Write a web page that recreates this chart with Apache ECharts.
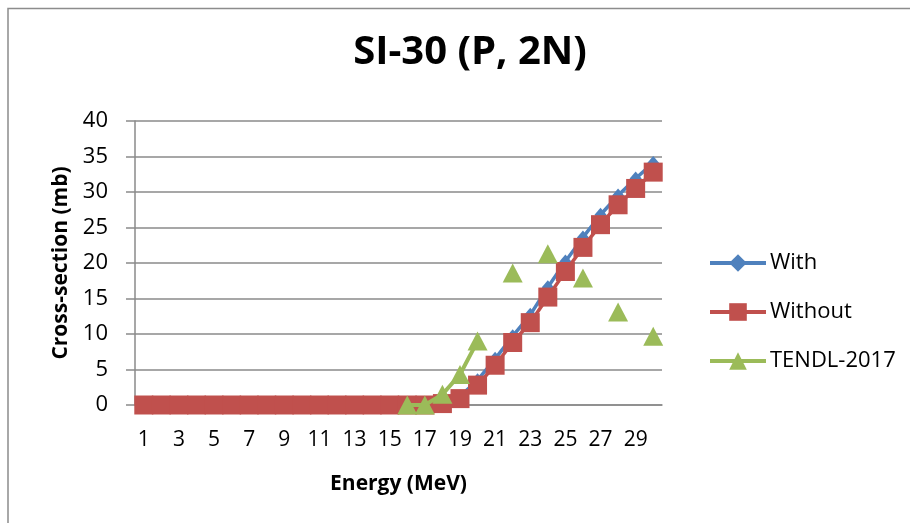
<!DOCTYPE html>
<html>
<head>
<meta charset="utf-8">
<script src="https://cdn.jsdelivr.net/npm/echarts@6/dist/echarts.min.js"></script>
<style>
html,body{margin:0;padding:0;background:#fff;}
#chart{width:910px;height:523px;}
</style>
</head>
<body>
<div id="chart"></div>
<script>
const energies = [1,2,3,4,5,6,7,8,9,10,11,12,13,14,15,16,17,18,19,20,21,22,23,24,25,26,27,28,29,30];
const withValues = [0,0,0,0,0,0,0,0,0,0,0,0,0,0,0,0,0,0.3,1.2,3.5,6.5,9.7,12.7,16.6,20.2,23.6,26.8,29.5,31.9,34.1];
const withoutValues = [0,0,0,0,0,0,0,0,0,0,0,0,0,0,0,0,0,0.2,0.9,2.8,5.6,8.8,11.6,15.2,18.8,22.2,25.4,28.2,30.5,32.8];
const tendlValues = [null,null,null,null,null,null,null,null,null,null,null,null,null,null,null,0,0,1.5,4.3,9.0,null,18.6,null,21.3,null,17.9,null,13.1,null,9.7];
const yTicks = [0,5,10,15,20,25,30,35,40];

const FONT = '"Open Sans", sans-serif';
const chart = echarts.init(document.getElementById('chart'), null, {renderer:'canvas'});
chart.setOption({
  animation:false,
  backgroundColor:'#fff',
  graphic:[{
    type:'rect', shape:{x:8, y:8.5, width:1000, height:1000},
    style:{fill:'none', stroke:'#8c8c8c', lineWidth:1.5}, z:-1
  }],
  title:{
    text:'SI-30 (P, 2N)', left:465, top:28, textAlign:'center',
    textStyle:{fontFamily:FONT, fontWeight:'bold', fontSize:40, color:'#000'}
  },
  grid:{left:135, right:248, top:121, bottom:118, containLabel:false},
  legend:{
    orient:'vertical', left:703, top:247, itemWidth:56, itemHeight:22, itemGap:27,
    lineStyle:{width:4},
    textStyle:{fontFamily:FONT, fontSize:22, color:'#000', padding:[0,0,0,-1]},
    data:['With','Without','TENDL-2017']
  },
  xAxis:{
    type:'category', data:energies, boundaryGap:true,
    name:'Energy (MeV)', nameLocation:'middle', nameGap:69,
    nameTextStyle:{fontFamily:FONT, fontWeight:'bold', fontSize:21, color:'#000'},
    axisLine:{lineStyle:{color:'#8a8a8a', width:1.5}},
    axisTick:{show:false},
    axisLabel:{interval:1, fontFamily:FONT, fontSize:21, color:'#000', margin:25}
  },
  yAxis:{
    type:'value', min:0, max:40, interval:5,
    name:'Cross-section (mb)', nameLocation:'middle', nameGap:63,
    nameTextStyle:{fontFamily:FONT, fontWeight:'bold', fontSize:21, color:'#000'},
    axisLine:{show:true, lineStyle:{color:'#8a8a8a', width:1.5}},
    axisTick:{show:true, length:9, lineStyle:{color:'#8a8a8a', width:1.5}},
    splitLine:{lineStyle:{color:'#8a8a8a', width:1.5}},
    axisLabel:{fontFamily:FONT, fontSize:22, color:'#000', margin:27,
      formatter:v => yTicks.includes(v) ? String(v) : ''}
  },
  series:[
    {name:'With', type:'line', data:withValues, symbol:'diamond', symbolSize:[12,14],
     showAllSymbol:true,
     lineStyle:{color:'#4F81BD', width:3.5}, itemStyle:{color:'#4F81BD'}, z:2},
    {name:'Without', type:'line', data:withoutValues, symbol:'rect', symbolSize:19,
     showAllSymbol:true,
     lineStyle:{color:'#C0504D', width:3.5}, itemStyle:{color:'#C0504D'}, z:3},
    {name:'TENDL-2017', type:'line', data:tendlValues, symbol:'triangle', symbolSize:[20,19],
     showAllSymbol:true, connectNulls:false,
     lineStyle:{color:'#9BBB59', width:4}, itemStyle:{color:'#9BBB59'}, z:4}
  ]
});
</script>
</body>
</html>
